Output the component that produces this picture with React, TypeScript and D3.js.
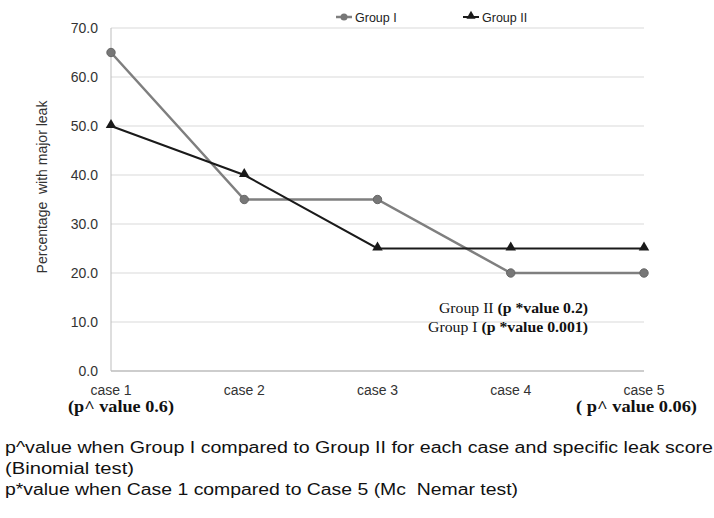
import React from "react";
import * as d3 from "d3";

const categories = ["case 1", "case 2", "case 3", "case 4", "case 5"];
const groupI = [65, 35, 35, 20, 20];
const groupII = [50, 40, 25, 25, 25];
const yTicks = [0, 10, 20, 30, 40, 50, 60, 70];
const footer = [
  "p^value when Group I compared to Group II for each case and specific leak score",
  "(Binomial test)",
  "p*value when Case 1 compared to Case 5 (Mc  Nemar test)",
];
const footerWidths = [708, 129, 513];

const W = 714, H = 518;
const left = 111, right = 644, top = 28, bottom = 371;

export default function App() {
  const x = d3.scalePoint<string>().domain(categories).range([left, right]).padding(0);
  const y = d3.scaleLinear().domain([0, 70]).range([bottom, top]);
  const line = d3.line<number>().x((_, i) => x(categories[i]) as number).y((d) => y(d));
  const tri = d3.symbol().type(d3.symbolTriangle).size(48)() as string;
  const sans = "Liberation Sans, Arial, sans-serif";
  const serif = "Liberation Serif, Times New Roman, serif";
  return (
    <svg width={W} height={H} style={{ position: "absolute", left: 0, top: 0, background: "#fff" }}>
      {yTicks.map((t) => (
        <g key={t}>
          {t > 0 && <line x1={left} x2={right} y1={y(t)} y2={y(t)} stroke="#d9d9d9" strokeWidth={1} />}
          <text x={98} y={y(t)} dy="0.35em" textAnchor="end" fontFamily={sans} fontSize={14} fill="#333">
            {d3.format(".1f")(t)}
          </text>
        </g>
      ))}
      <line x1={left} x2={left} y1={top} y2={bottom} stroke="#bdbdbd" strokeWidth={1} />
      <line x1={left} x2={right} y1={bottom} y2={bottom} stroke="#bdbdbd" strokeWidth={1.5} />
      {categories.map((c) => (
        <text key={c} x={x(c)} y={395} textAnchor="middle" fontFamily={sans} fontSize={14} fill="#333">
          {c}
        </text>
      ))}
      <text transform={`translate(47,${187}) rotate(-90)`} textAnchor="middle" fontFamily={sans} fontSize={14} fill="#333" style={{ whiteSpace: "pre" }}>
        {"Percentage  with major leak"}
      </text>
      <path d={line(groupI) as string} fill="none" stroke="#7f7f7f" strokeWidth={2.5} />
      {groupI.map((v, i) => (
        <circle key={i} cx={x(categories[i])} cy={y(v)} r={4.2} fill="#777" stroke="#666" strokeWidth={1} />
      ))}
      <path d={line(groupII) as string} fill="none" stroke="#1a1a1a" strokeWidth={2} />
      {groupII.map((v, i) => (
        <path key={i} d={tri} transform={`translate(${x(categories[i])},${y(v) - 1})`} fill="#1a1a1a" />
      ))}
      {/* legend */}
      <line x1={336} x2={352} y1={17} y2={17} stroke="#7f7f7f" strokeWidth={2.5} />
      <circle cx={344} cy={17} r={3.5} fill="#777" />
      <text x={355} y={21.5} fontFamily={sans} fontSize={12.5} fill="#222">Group I</text>
      <line x1={463} x2={479} y1={17} y2={17} stroke="#1a1a1a" strokeWidth={2} />
      <path d={d3.symbol().type(d3.symbolTriangle).size(36)() as string} transform="translate(471,16)" fill="#1a1a1a" />
      <text x={482} y={21.5} fontFamily={sans} fontSize={12.5} fill="#222">Group II</text>
      {/* annotations */}
      <text x={68} y={412} fontFamily={serif} fontSize={16.5} fontWeight="bold" fill="#111" textLength={106} lengthAdjust="spacingAndGlyphs">
        (p^ value 0.6)
      </text>
      <text x={576} y={412} fontFamily={serif} fontSize={16.5} fontWeight="bold" fill="#111" textLength={121} lengthAdjust="spacingAndGlyphs" style={{ whiteSpace: "pre" }}>
        {"( p^ value 0.06)"}
      </text>
      <text x={439} y={313} fontFamily={serif} fontSize={14.5} fill="#111" textLength={149} lengthAdjust="spacingAndGlyphs">
        Group II <tspan fontWeight="bold">(p *value 0.2)</tspan>
      </text>
      <text x={428} y={332} fontFamily={serif} fontSize={14.5} fill="#111" textLength={160} lengthAdjust="spacingAndGlyphs">
        Group I <tspan fontWeight="bold">(p *value 0.001)</tspan>
      </text>
      {footer.map((f, i) => (
        <text key={i} x={5} y={453 + i * 21} fontFamily={sans} fontSize={16} fill="#111" textLength={footerWidths[i]} lengthAdjust="spacingAndGlyphs" style={{ whiteSpace: "pre" }}>
          {f}
        </text>
      ))}
    </svg>
  );
}
